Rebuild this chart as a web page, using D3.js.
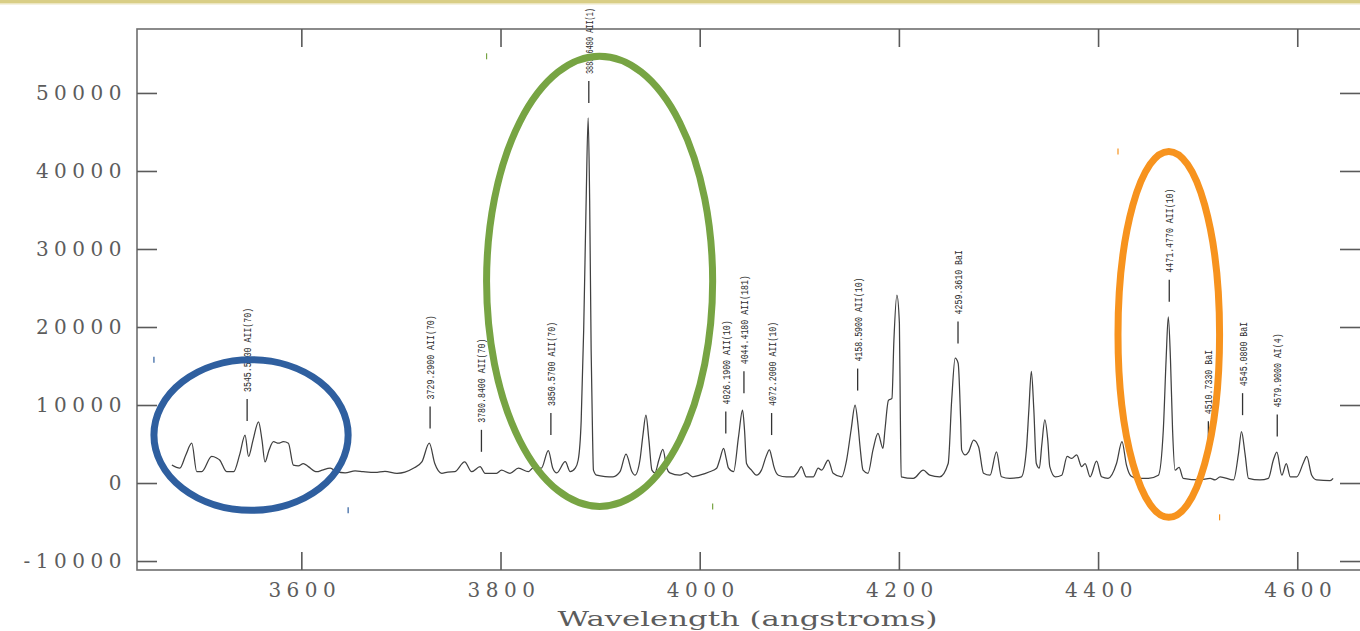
<!DOCTYPE html>
<html>
<head>
<meta charset="utf-8">
<script src="https://cdn.jsdelivr.net/npm/d3@7"></script>
<style>
  html, body { margin: 0; padding: 0; background: #ffffff; overflow: hidden; }
  svg { display: block; }
</style>
</head>
<body>
<svg id="chart" width="1360" height="631"></svg>
<script>
// Emission spectrum: wavelength (angstroms) and detector counts
const wavelength = [
  3470,3478,3484,3490,3495,3500,3510,3515,3518,3525,
  3532,3538,3543.5,3547,3551.5,3557,3560.5,3563.5,3567.5,3572,
  3577,3582,3587,3592,3597,3602,3607,3615.5,3621,3629,
  3635.5,3644,3654,3662,3674,3684,3696,3704,3712.5,3721,
  3728.5,3734,3741,3747,3754,3764,3771,3779.5,3784.5,3796,
  3801,3809.5,3818,3828,3832.5,3841,3848,3852.5,3856.5,3865,
  3870,3875,3878,3881,3883.5,3886,3888,3889.5,3891,3892.5,
  3893.3,3896.5,3905,3913,3920,3926,3932,3935,3940,3943,
  3946,3949,3952,3955,3959,3963,3967,3970,3980,3987,
  3993,4000,4010,4017,4020,4024,4026.5,4029,4034,4039,
  4043,4045,4047,4052,4057,4062,4066.5,4070,4072.5,4074.5,
  4079,4087,4094,4098.5,4102,4107,4114,4119,4122.5,4129,
  4134,4142.5,4147.5,4152,4156,4159,4161,4164,4169,4174,
  4179,4184,4186,4189.5,4193,4195,4198,4200.5,4201.5,4202.3,
  4214.5,4224.5,4231,4241,4249.5,4253,4256.5,4259.5,4262,4263,
  4266.5,4270,4275,4280,4285,4291.5,4298,4303,4311.5,4323,
  4328,4330.5,4333,4335.5,4338,4341,4343.5,4346.5,4349.5,4351.5,
  4357,4363.5,4369,4373.5,4378.5,4383.5,4387,4392,4398.5,4403.5,
  4410,4418.5,4424,4428.5,4433,4439,4450.5,4460.5,4465.5,4468.3,
  4470.5,4472.7,4474.8,4477.3,4481.3,4485.5,4502,4512.5,4517.5,4522.5,
  4536,4541,4544,4547.5,4551,4562.5,4571,4576,4579.5,4584.5,
  4589,4593,4599.5,4606.5,4609.5,4614.5,4619.5,4633,4636
];
const intensity = [
  2300,1900,3600,5100,1450,1450,3400,3200,2950,1450,
  1450,3600,6150,3400,5500,7850,5500,2700,4200,5300,
  5100,5300,5100,2300,2200,2500,2100,1450,1650,1900,
  1450,1300,1550,1450,1350,1480,1250,1400,1900,2700,
  5100,2500,1250,1400,1450,2700,1450,2100,1250,1250,
  1650,1250,1900,1450,1900,1900,4150,1900,1300,2730,
  1450,1900,2950,8000,19600,36300,46800,36300,17000,5500,
  1650,1000,830,800,1450,3700,1450,1000,2950,6150,
  8700,5500,1650,1300,2950,4300,1900,1300,1000,1300,
  800,1000,1450,1900,2950,4450,3200,1900,1450,5950,
  9350,6800,2500,1650,1000,1650,3350,4250,3200,2100,
  1000,800,800,1400,2100,800,800,1900,1650,2950,
  1250,800,2950,6800,10000,7400,4650,1650,1250,4250,
  6350,4450,6800,10600,10850,18300,24100,20500,8100,800,
  600,1650,1000,800,2500,10600,16000,15350,8100,4250,
  3600,4000,5500,4650,1250,1000,4000,800,600,800,
  4250,9350,14300,9350,2500,1900,4900,8100,5500,2100,
  800,1000,3400,3150,3600,2100,2500,800,2800,800,
  600,2500,5300,2300,900,600,600,1000,6800,15800,
  21300,15800,6800,1650,2000,600,400,600,400,800,
  400,3800,6600,3800,600,400,600,2950,3950,1000,
  2500,800,800,2700,3400,1000,400,300,600
];

// Axis ticks
const xTicks = [3600, 3800, 4000, 4200, 4400, 4600];
const yTicks = [-10000, 0, 10000, 20000, 30000, 40000, 50000];
const xTitle = "Wavelength (angstroms)";

// Identified lines: rest wavelength, label, and the count level where the marker sits
const lineWavelengths = [3545.58, 3729.29, 3780.84, 3850.57, 3888.648, 4026.19, 4044.418,
                         4072.2, 4158.59, 4259.361, 4471.477, 4510.733, 4545.08, 4579.9];
const lineLabels = ["3545.5800 AII(70)", "3729.2900 AII(70)", "3780.8400 AII(70)",
                    "3850.5700 AII(70)", "3888.6480 AII(1)", "4026.1900 AII(10)",
                    "4044.4180 AII(181)", "4072.2000 AII(10)", "4158.5900 AII(10)",
                    "4259.3610 BaI", "4471.4770 AII(10)", "4510.7330 BaI",
                    "4545.0800 BaI", "4579.9000 AI(4)"];
const markerLevels = [7950, 7000, 4000, 6150, 48700, 6350, 11500,
                      6150, 11850, 17900, 23250, 5100, 8700, 5950];

// Highlighted regions: wavelength span and count span of each ring
const highlightWave = [[3452, 3647], [3786, 4013], [4420, 4522]];
const highlightCounts = [[-3500, 15800], [-3000, 54700], [-4400, 42500]];

const svg = d3.select("#chart");
const W = 1360, H = 631;

const x = d3.scaleLinear().domain([3435, 4665]).range([137, 1362]);
const y = d3.scaleLinear().domain([-11150, 58200]).range([570, 29]);

const axisFont = "'DejaVu Serif', 'Liberation Serif', serif";
const axisColor = "#5c5c5c";

// header strip
svg.append("rect").attr("x", 0).attr("y", 0).attr("width", W).attr("height", 3.5)
  .attr("fill", "#d9ce86");
svg.append("rect").attr("x", 0).attr("y", 3.5).attr("width", W).attr("height", 1)
  .attr("fill", "#ece6bf");

// plot frame
const [x0, x1] = x.range();
const [yb, yt] = y.range();
svg.append("rect")
  .attr("x", x0).attr("y", yt).attr("width", x1 - x0).attr("height", yb - yt)
  .attr("fill", "none").attr("stroke", "#6e6e6e").attr("stroke-width", 1.6);

const fmtY = d => d < 0 ? "-" + Math.abs(d) : String(d);

function styleAxis(g) {
  g.select(".domain").remove();
  g.selectAll(".tick line").attr("stroke", "#5a5a5a").attr("stroke-width", 1.6);
  g.selectAll(".tick text")
    .attr("fill", axisColor)
    .style("font-family", axisFont)
    .style("font-size", "20px")
    .style("letter-spacing", "5.5px");
}

svg.append("g").attr("transform", `translate(${x0},0)`)
  .call(d3.axisLeft(y).tickValues(yTicks).tickSize(-20).tickPadding(10).tickFormat(fmtY))
  .call(styleAxis);

svg.append("g").attr("transform", `translate(${x1},0)`)
  .call(d3.axisRight(y).tickValues(yTicks).tickSize(-22).tickFormat(""))
  .call(styleAxis);

svg.append("g").attr("transform", `translate(0,${yb})`)
  .call(d3.axisBottom(x).tickValues(xTicks).tickSize(-18).tickPadding(13).tickFormat(d3.format("d")))
  .call(styleAxis)
  .call(g => g.selectAll(".tick text").attr("dx", 3));

svg.append("g").attr("transform", `translate(0,${yt})`)
  .call(d3.axisTop(x).tickValues(xTicks).tickSize(-18).tickFormat(""))
  .call(styleAxis);

// x-axis title
svg.append("text")
  .attr("x", (x0 + x1) / 2 - 2).attr("y", 626)
  .attr("text-anchor", "middle")
  .attr("fill", axisColor)
  .attr("textLength", 380).attr("lengthAdjust", "spacingAndGlyphs")
  .style("font-family", axisFont).style("font-size", "20px")
  .text(xTitle);

// spectrum trace
const pts = d3.zip(wavelength, intensity);
svg.append("path")
  .datum(pts)
  .attr("fill", "none")
  .attr("stroke", "#404040")
  .attr("stroke-width", 1.25)
  .attr("stroke-linejoin", "round")
  .attr("d", d3.line().x(d => x(d[0])).y(d => y(d[1])).curve(d3.curveMonotoneX));

// line identifications: short marker plus rotated label
const ids = svg.append("g");
lineWavelengths.forEach((wl, i) => {
  const px = x(wl);
  const base = y(markerLevels[i]);
  const textStart = base - 29;
  // labels are condensed; squeeze a little more if it would run off the top
  const len = Math.min(lineLabels[i].length * 4.95, textStart - 8);
  ids.append("line")
    .attr("x1", px).attr("x2", px)
    .attr("y1", base).attr("y2", base - 22)
    .attr("stroke", "#333").attr("stroke-width", 1.3);
  ids.append("text")
    .attr("transform", `translate(${px},${textStart}) rotate(-90)`)
    .attr("dy", "0.36em")
    .attr("text-anchor", "start")
    .attr("fill", "#2e2e2e")
    .attr("textLength", len)
    .attr("lengthAdjust", "spacingAndGlyphs")
    .style("font-family", "'Liberation Mono', 'DejaVu Sans Mono', monospace")
    .style("font-size", "11px")
    .text(lineLabels[i]);
});

// highlight rings
const ringColors = ["#2f5f9f", "#77a443", "#f7931e"];
const rings = svg.append("g");
highlightWave.forEach((w, i) => {
  const xa = x(w[0]), xb = x(w[1]);
  const ya = y(highlightCounts[i][1]), yb2 = y(highlightCounts[i][0]);
  const cx = (xa + xb) / 2, cy = (ya + yb2) / 2;
  const rx = (xb - xa) / 2, ry = (yb2 - ya) / 2;
  rings.append("ellipse")
    .attr("cx", cx).attr("cy", cy).attr("rx", rx).attr("ry", ry)
    .attr("fill", "none").attr("stroke", ringColors[i]).attr("stroke-width", 7);
  // corner handles of the ring's bounding box
  [[xa, ya], [xb, yb2]].forEach(([hx, hy]) => {
    rings.append("line")
      .attr("x1", hx).attr("x2", hx).attr("y1", hy - 3).attr("y2", hy + 3)
      .attr("stroke", ringColors[i]).attr("stroke-width", 1.2);
  });
});
</script>
</body>
</html>
